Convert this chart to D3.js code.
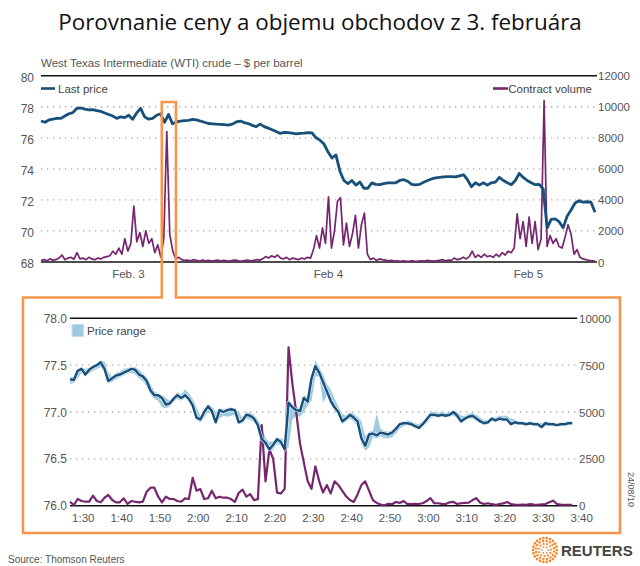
<!DOCTYPE html>
<html><head><meta charset="utf-8">
<script src="https://cdn.jsdelivr.net/npm/d3@7"></script>
<style>
body{margin:0;background:#fff}
svg{display:block}
text{font-family:"Liberation Sans",Arial,sans-serif}
</style>
</head><body>
<svg id="c" width="640" height="566"></svg>
<script>
// ---------- DATA: upper chart (3 days) ----------
const topStart = "2010-02-02T13:30";
const topEnd   = "2010-02-05T08:00";
const topPrice = [77.08,77.00,77.15,77.20,77.25,77.25,77.40,77.55,77.62,77.90,
77.92,77.85,77.80,77.82,77.75,77.70,77.60,77.50,77.40,77.25,
77.35,77.30,77.45,77.20,77.60,77.90,77.35,77.20,77.25,77.45,
77.55,77.00,77.50,76.90,77.02,77.08,77.10,77.12,77.18,77.15,
77.08,77.00,76.92,76.90,76.88,76.87,76.85,76.82,76.88,77.02,
77.08,76.98,76.92,76.80,76.72,76.88,76.72,76.62,76.52,76.40,
76.28,76.35,76.33,76.30,76.25,76.28,76.30,76.33,76.32,76.00,
75.85,75.60,75.10,74.70,74.90,73.85,73.25,73.05,73.25,72.95,
73.15,72.75,72.75,73.10,73.00,72.98,73.05,73.10,73.10,73.10,
73.25,73.30,73.20,73.00,72.97,73.00,73.14,73.25,73.35,73.42,
73.45,73.48,73.50,73.50,73.48,73.55,73.62,73.30,72.85,73.10,
72.95,73.10,72.95,73.10,73.15,73.45,73.25,73.10,72.98,73.25,
73.70,73.45,73.25,73.10,72.98,73.00,72.70,70.20,70.75,70.78,
70.60,70.20,70.95,71.35,71.80,71.95,71.85,71.88,71.85,71.20];
const topVolume = [100,150,80,200,120,150,250,450,150,250,
300,180,600,200,250,150,300,200,150,250,
200,300,350,400,700,500,900,500,1500,700,
1200,3600,1300,1900,1000,2000,1200,1500,600,1100,
300,1500,8400,1800,700,200,300,150,100,120,
80,150,100,60,120,80,100,60,90,120,
60,100,80,60,100,120,80,60,90,120,
80,100,150,120,200,350,250,400,300,450,
250,200,300,150,250,200,150,250,200,300,
250,800,1700,900,2200,1200,4200,900,2000,3900,
4150,1100,2500,1000,1800,3000,900,2400,3150,500,
150,250,100,200,150,120,80,100,60,80,
50,70,50,60,80,50,60,80,60,100,
80,60,80,100,150,80,120,100,250,150,
200,300,200,350,700,300,450,300,500,350,
400,300,500,350,600,450,700,600,900,3100,
1500,2600,1000,2900,1200,2600,800,1500,10400,1000,
1700,1200,1500,1000,900,1600,2400,1800,500,800,
300,200,150,100,80,60];
const topDayTicks  = ["2010-02-03T00:00","2010-02-04T00:00","2010-02-05T00:00"];
const topDayLabels = ["Feb. 3","Feb 4","Feb 5"];
const topPriceTicks  = [68,70,72,74,76,78,80];
const topVolumeTicks = [0,2000,4000,6000,8000,10000,12000];
const highlightWindow = ["2010-02-03T04:00","2010-02-03T05:42"];

// ---------- DATA: lower chart (zoom, one point per minute) ----------
const zoomStart = "2010-02-03T01:26:32";
const zoomPrice = [77.35,77.34,77.44,77.46,77.40,77.45,77.48,77.50,77.53,77.46,
77.33,77.36,77.39,77.40,77.42,77.44,77.46,77.45,77.40,77.38,
77.33,77.23,77.18,77.18,77.15,77.08,77.09,77.14,77.18,77.15,
77.18,77.14,77.07,76.94,76.92,77.00,77.06,77.01,76.89,77.02,
77.00,77.02,77.03,77.02,76.89,76.91,76.97,76.96,76.93,76.86,
76.71,76.67,76.60,76.65,76.71,76.68,76.60,77.10,77.05,77.02,
77.01,77.15,77.11,77.36,77.49,77.42,77.32,77.22,77.12,77.05,
77.00,76.90,76.93,76.97,76.94,76.90,76.72,76.64,76.76,76.77,
76.75,76.78,76.77,76.76,76.78,76.82,76.87,76.88,76.88,76.87,
76.85,76.83,76.87,76.92,76.97,76.97,76.96,76.97,76.96,76.97,
77.00,76.96,76.90,76.93,76.95,76.96,76.93,76.90,76.88,76.89,
76.93,76.91,76.93,76.92,76.92,76.87,76.89,76.88,76.88,76.87,
76.88,76.87,76.87,76.84,76.88,76.87,76.87,76.86,76.87,76.87,
76.88,76.88];
const zoomHigh = [77.37,77.38,77.46,77.48,77.46,77.47,77.50,77.52,77.55,77.54,
77.42,77.38,77.42,77.43,77.46,77.47,77.48,77.48,77.45,77.41,
77.37,77.30,77.22,77.20,77.18,77.15,77.12,77.17,77.21,77.19,
77.24,77.20,77.14,77.05,76.96,77.02,77.08,77.06,77.00,77.04,
77.03,77.04,77.05,77.04,77.00,76.94,77.00,76.99,76.97,76.92,
76.84,76.72,76.68,76.69,76.73,76.72,76.70,77.13,77.08,77.05,
77.04,77.18,77.16,77.40,77.55,77.48,77.40,77.30,77.24,77.14,
77.06,76.98,76.96,77.00,76.98,76.95,76.90,76.74,76.79,76.80,
76.98,76.82,76.80,76.79,76.81,76.85,76.89,76.90,76.91,76.90,
76.88,76.87,76.90,76.95,77.00,77.00,76.99,77.00,76.99,77.00,
77.02,77.00,76.96,76.96,76.98,76.99,76.97,76.94,76.91,76.92,
76.95,76.94,76.96,76.96,76.96,76.93,76.92,76.90,76.90,76.89,
76.90,76.89,76.89,76.88,76.90,76.89,76.89,76.88,76.89,76.89,
76.90,76.90];
const zoomLow = [77.30,77.31,77.36,77.42,77.38,77.41,77.44,77.46,77.48,77.42,
77.31,77.32,77.35,77.37,77.39,77.41,77.42,77.40,77.36,77.33,
77.27,77.19,77.14,77.12,77.05,77.04,77.06,77.11,77.14,77.12,
77.15,77.11,77.03,76.91,76.89,76.94,77.00,76.97,76.87,76.93,
76.96,76.95,76.96,76.97,76.87,76.88,76.93,76.92,76.89,76.82,
76.69,76.63,76.57,76.60,76.66,76.64,76.58,76.62,76.92,76.96,
76.95,77.00,77.07,77.12,77.38,77.38,77.10,77.18,77.08,77.01,
76.97,76.87,76.90,76.93,76.90,76.85,76.66,76.59,76.62,76.73,
76.72,76.74,76.72,76.72,76.73,76.77,76.82,76.85,76.86,76.85,
76.83,76.81,76.84,76.88,76.93,76.95,76.94,76.95,76.94,76.95,
76.96,76.93,76.88,76.90,76.93,76.93,76.90,76.88,76.86,76.87,
76.90,76.89,76.91,76.90,76.90,76.85,76.87,76.86,76.86,76.85,
76.86,76.85,76.85,76.83,76.85,76.85,76.85,76.84,76.85,76.85,
76.86,76.86];
const zoomVolume = [213,30,357,250,213,213,534,250,180,427,
570,303,180,180,393,100,250,213,180,213,
750,960,960,480,180,480,357,357,250,213,
393,357,1490,800,890,357,400,800,393,480,
427,427,357,200,680,860,480,620,300,350,
4300,1300,3000,2500,700,650,900,8450,6500,5000,
3300,2300,1300,900,2100,1300,700,1100,650,1300,
1100,800,500,300,200,600,1100,1300,800,300,
150,60,20,100,80,200,150,250,80,90,
100,90,130,250,400,130,130,100,90,180,
200,90,130,150,160,300,400,160,90,130,
80,40,90,120,200,90,60,50,60,50,
90,60,50,70,90,180,270,90,60,50,
50,40];
const zoomTimeTicks = ["2010-02-03T01:30","2010-02-03T01:40","2010-02-03T01:50","2010-02-03T02:00",
"2010-02-03T02:10","2010-02-03T02:20","2010-02-03T02:30","2010-02-03T02:40","2010-02-03T02:50",
"2010-02-03T03:00","2010-02-03T03:10","2010-02-03T03:20","2010-02-03T03:30","2010-02-03T03:40"];
const zoomPriceTicks  = [76.0,76.5,77.0,77.5,78.0];
const zoomVolumeTicks = [0,2500,5000,7500,10000];

// ---------- COLOURS ----------
const C_PRICE = "#17507a", C_VOL = "#76266e", C_RANGE = "#9ecae1",
      C_ORANGE = "#f7964a", C_TEXT = "#555", C_GRID = "#a8a8a8";

const svg = d3.select("#c");
const fmtTime = d3.timeFormat("%-H:%M");

// ---------- Title & headers ----------
svg.append("text").attr("x",320).attr("y",30).attr("text-anchor","middle")
  .style("font-family","'Open Sans','Noto Sans',sans-serif").style("font-size","22.4px")
  .attr("fill","#111").text("Porovnanie ceny a objemu obchodov z 3. februára");
svg.append("text").attr("x",41).attr("y",67).attr("fill",C_TEXT).style("font-size","11.5px")
  .text("West Texas Intermediate (WTI) crude – $ per barrel");

// ---------- Upper chart ----------
const T = {l:41, r:595, t:75.7, b:262};
const xT = d3.scaleTime().domain([new Date(topStart), new Date(topEnd)]).range([T.l, T.r]);
const yT = d3.scaleLinear().domain([68,80]).range([T.b, T.t]);
const yTV = d3.scaleLinear().domain([0,12000]).range([T.b, T.t]);
const t0 = +new Date(topStart), t1 = +new Date(topEnd);
const priceTimes = topPrice.map((_,i)=>new Date(t0 + i*(t1-t0)/(topPrice.length-1)));
const volTimes = topVolume.map((_,i)=>new Date(t0 + i*(t1-t0)/(topVolume.length-1)));

const gT = svg.append("g");
gT.selectAll(".gridT").data(topPriceTicks.slice(1,-1)).join("line")
  .attr("x1",T.l).attr("x2",T.r+2).attr("y1",d=>yT(d)).attr("y2",d=>yT(d))
  .attr("stroke",C_GRID).attr("stroke-width",1.3).attr("stroke-dasharray","1.3,4.7");
[68,80].forEach(v=>gT.append("line").attr("x1",T.l).attr("x2",T.r+2)
  .attr("y1",yT(v)).attr("y2",yT(v)).attr("stroke","#111").attr("stroke-width",1.4));
gT.selectAll(".ltT").data(topPriceTicks).join("text")
  .attr("x",34).attr("y",d=>yT(d)+6).attr("text-anchor","end")
  .attr("fill",C_TEXT).style("font-size","12px").text(d=>d);
gT.selectAll(".rtT").data(topVolumeTicks).join("text")
  .attr("x",598).attr("y",d=>yTV(d)+4.5)
  .attr("fill",C_TEXT).style("font-size","11.5px").text(d=>d);
gT.selectAll(".dt").data(topDayTicks).join("text")
  .attr("x",d=>xT(new Date(d))).attr("y",278).attr("text-anchor","middle")
  .attr("fill",C_TEXT).style("font-size","11.5px").text((d,i)=>topDayLabels[i]);

gT.append("path").datum(topVolume)
  .attr("d", d3.line().x((d,i)=>xT(volTimes[i])).y(d=>yTV(d)))
  .attr("fill","none").attr("stroke",C_VOL).attr("stroke-width",1.7).attr("stroke-linejoin","round");
gT.append("path").datum(topPrice)
  .attr("d", d3.line().x((d,i)=>xT(priceTimes[i])).y(d=>yT(d)))
  .attr("fill","none").attr("stroke",C_PRICE).attr("stroke-width",2.8).attr("stroke-linejoin","round");

// legends
gT.append("line").attr("x1",41).attr("x2",55).attr("y1",88.5).attr("y2",88.5)
  .attr("stroke",C_PRICE).attr("stroke-width",2.6);
gT.append("text").attr("x",58).attr("y",92.5).attr("fill","#444").style("font-size","11.5px").text("Last price");
gT.append("line").attr("x1",493).attr("x2",508).attr("y1",88.5).attr("y2",88.5)
  .attr("stroke",C_VOL).attr("stroke-width",2.6);
gT.append("text").attr("x",592).attr("y",92.5).attr("text-anchor","end").attr("fill","#444")
  .style("font-size","11.5px").text("Contract volume");

// ---------- Lower chart ----------
const B = {t:318.3, b:505.7};
const xB = d3.scaleTime().domain([new Date(zoomTimeTicks[0]), new Date(zoomTimeTicks[zoomTimeTicks.length-1])])
  .range([83.3, 581.7]);
const yB = d3.scaleLinear().domain([76,78]).range([B.b, B.t]);
const yBV = d3.scaleLinear().domain([0,10000]).range([B.b, B.t]);
const zStart = new Date(zoomStart);
const zTimes = zoomPrice.map((_,i)=>d3.timeMinute.offset(zStart, i));
const bl = xB(zTimes[0]), br = xB(zTimes[zTimes.length-1]);

const gB = svg.append("g");
gB.selectAll(".gridB").data(zoomPriceTicks.slice(1,-1)).join("line")
  .attr("x1",bl).attr("x2",br+5).attr("y1",d=>yB(d)).attr("y2",d=>yB(d))
  .attr("stroke",C_GRID).attr("stroke-width",1.3).attr("stroke-dasharray","1.3,4.7");
[76,78].forEach(v=>gB.append("line").attr("x1",bl).attr("x2",br+5)
  .attr("y1",yB(v)).attr("y2",yB(v)).attr("stroke","#111").attr("stroke-width",1.4));
gB.selectAll(".ltB").data(zoomPriceTicks).join("text")
  .attr("x",67).attr("y",d=>yB(d)+4.5).attr("text-anchor","end")
  .attr("fill",C_TEXT).style("font-size","12px").text(d=>d.toFixed(1));
gB.selectAll(".rtB").data(zoomVolumeTicks).join("text")
  .attr("x",579).attr("y",d=>yBV(d)+4.5)
  .attr("fill",C_TEXT).style("font-size","11.5px").text(d=>d);
gB.selectAll(".xtB").data(zoomTimeTicks).join("text")
  .attr("x",d=>xB(new Date(d))).attr("y",522).attr("text-anchor","middle")
  .attr("fill",C_TEXT).style("font-size","11.5px").text(d=>fmtTime(new Date(d)));

gB.append("path").datum(zoomPrice)
  .attr("d", d3.area().x((d,i)=>xB(zTimes[i])).y0((d,i)=>yB(zoomLow[i])).y1((d,i)=>yB(zoomHigh[i])))
  .attr("fill",C_RANGE);
gB.append("path").datum(zoomVolume)
  .attr("d", d3.line().x((d,i)=>xB(zTimes[i])).y(d=>yBV(d)))
  .attr("fill","none").attr("stroke",C_VOL).attr("stroke-width",2.2).attr("stroke-linejoin","round");
const priceLineB = d3.line().x((d,i)=>xB(zTimes[i])).y(d=>yB(d));
gB.append("path").datum(zoomPrice).attr("d",priceLineB)
  .attr("fill","none").attr("stroke","#fff").attr("stroke-width",3.6).attr("stroke-linejoin","round");
gB.append("path").datum(zoomPrice).attr("d",priceLineB)
  .attr("fill","none").attr("stroke",C_PRICE).attr("stroke-width",2.5).attr("stroke-linejoin","round");

gB.append("rect").attr("x",72).attr("y",324.5).attr("width",11.5).attr("height",12)
  .attr("fill",C_RANGE).attr("stroke","#c3e0ef").attr("stroke-width",1);
gB.append("text").attr("x",87).attr("y",334.5).attr("fill","#444").style("font-size","11.5px").text("Price range");

// ---------- Orange highlight frame ----------
const hx0 = xT(new Date(highlightWindow[0])), hx1 = xT(new Date(highlightWindow[1]));
const fr = {l:23, r:620, t:297.5, b:533, top:102};
svg.append("path")
  .attr("d",`M${hx0},${fr.t}L${fr.l},${fr.t}L${fr.l},${fr.b}L${fr.r},${fr.b}L${fr.r},${fr.t}L${hx1},${fr.t}L${hx1},${fr.top}L${hx0},${fr.top}Z`)
  .attr("fill","none").attr("stroke",C_ORANGE).attr("stroke-width",2.6);

// ---------- Footer ----------
svg.append("text").attr("transform","translate(628,472) rotate(90)")
  .attr("fill",C_TEXT).style("font-size","9px").text("24/08/10");
svg.append("text").attr("x",8).attr("y",563).attr("fill",C_TEXT).style("font-size","10px")
  .text("Source: Thomson Reuters");
const logo = svg.append("g").attr("transform","translate(545,550)");
[[3.2,6,0.9],[6.2,11,1.1],[9.2,16,1.25],[12,22,1.35]].forEach(([r,n,s])=>{
  d3.range(n).forEach(k=>{
    const a = 2*Math.PI*k/n + r;
    logo.append("circle").attr("cx",r*Math.cos(a)).attr("cy",r*Math.sin(a)).attr("r",s).attr("fill","#f28a2e");
  });
});
svg.append("text").attr("x",561).attr("y",556).attr("fill","#444").style("font-size","15px")
  .style("font-weight","bold").text("REUTERS");
</script>
</body></html>
